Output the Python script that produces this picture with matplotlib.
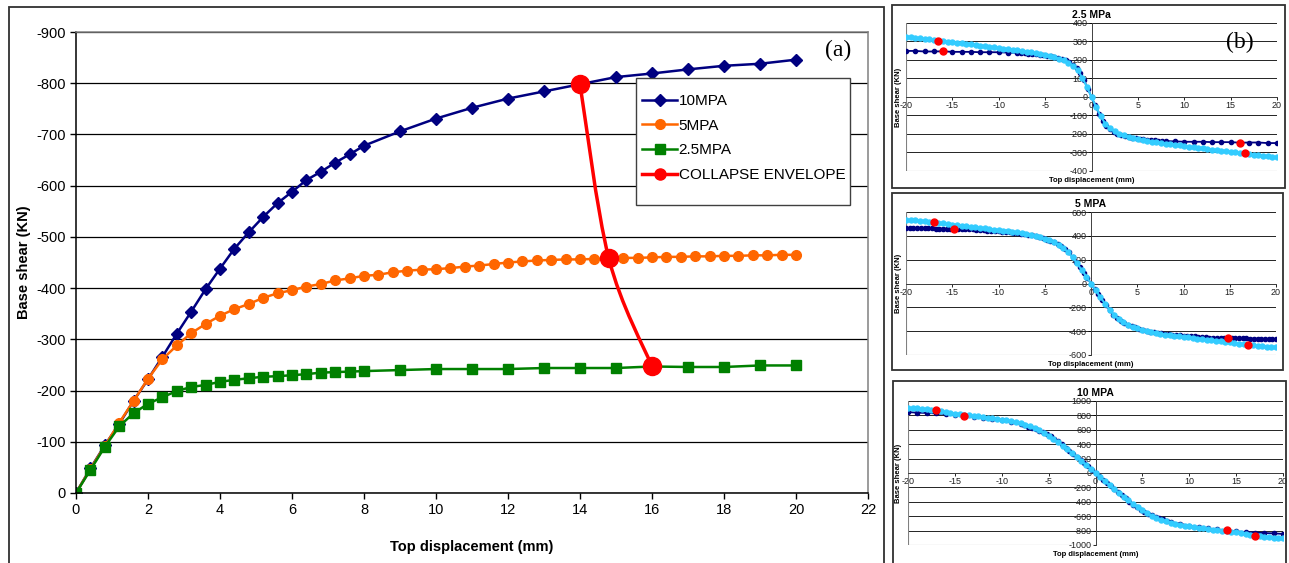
import numpy as np
import matplotlib.pyplot as plt
from matplotlib.lines import Line2D
from matplotlib.path import Path
from matplotlib.patches import PathPatch, Rectangle

plt.rcParams['font.family'] = ['Liberation Sans', 'DejaVu Sans']
plt.rcParams['axes.unicode_minus'] = False

# ---- (a) pushover curves, top displacement (mm) vs base shear (KN)
disp_a = [0, 0.4, 0.8, 1.2, 1.6, 2.0, 2.4, 2.8, 3.2, 3.6, 4.0, 4.4, 4.8, 5.2, 5.6, 6.0,
          6.4, 6.8, 7.2, 7.6, 8.0, 9, 10, 11, 12, 13, 14, 15, 16, 17, 18, 19, 20]
shear_10 = [0, -48, -93, -135, -180, -222, -266, -311, -354, -398, -438, -477, -509, -539,
            -566, -588, -611, -627, -645, -661, -678, -706, -731, -752, -770, -784, -798,
            -812, -819, -827, -834, -838, -846]
shear_25 = [0, -45, -90, -130, -156, -174, -187, -199, -207, -211, -217, -221, -224, -227,
            -228, -230, -232, -235, -236, -237, -238, -240, -242, -242, -242, -244, -244,
            -244, -247, -246, -246, -249, -249]

disp_5 = [0, 0.4, 0.8, 1.2, 1.6, 2.0, 2.4, 2.8, 3.2, 3.6, 4.0, 4.4, 4.8, 5.2, 5.6, 6.0, 6.4,
          6.8, 7.2, 7.6, 8.0, 8.4, 8.8, 9.2, 9.6, 10.0, 10.4, 10.8, 11.2, 11.6, 12.0, 12.4,
          12.8, 13.2, 13.6, 14.0, 14.4, 14.8, 15.2, 15.6, 16.0, 16.4, 16.8, 17.2, 17.6, 18.0,
          18.4, 18.8, 19.2, 19.6, 20.0]
shear_5 = [0, -47, -92, -137, -180, -223, -261, -288, -312, -330, -346, -359, -369, -381,
           -390, -396, -403, -408, -415, -419, -424, -426, -431, -434, -436, -437, -439, -442,
           -444, -447, -450, -452, -454, -455, -456, -456, -457, -458, -459, -459, -460, -461,
           -461, -462, -462, -463, -463, -464, -464, -465, -465]

collapse_disp = [14, 14.8, 16]
collapse_shear = [-798, -458, -247]

# ---- (b) cyclic envelopes, positive displacement branch (mirrored in the plot)
disp_b = [0, 0.5, 1, 1.5, 2, 2.5, 3, 3.5, 4, 4.5, 5, 5.5, 6, 6.5, 7, 7.5, 8, 8.5, 9, 9.5, 10,
          10.5, 11, 11.5, 12, 12.5, 13, 13.5, 14, 14.5, 15, 15.5, 16, 16.5, 17, 17.5, 18,
          18.5, 19, 19.5, 20]
env_25 = [0, -55, -105, -145, -170, -186, -198, -207, -215, -222, -228, -233, -237, -241,
          -245, -249, -252, -256, -259, -262, -266, -269, -272, -275, -278, -281, -284, -287,
          -290, -293, -296, -299, -302, -305, -308, -311, -314, -317, -320, -323, -327]
env_5 = [0, -58, -113, -168, -220, -265, -298, -325, -345, -362, -375, -388, -398, -407,
         -415, -422, -428, -434, -439, -444, -448, -453, -458, -462, -467, -471, -476, -480,
         -485, -489, -494, -499, -504, -510, -516, -520, -523, -526, -529, -531, -534]
env_10 = [0, -58, -115, -170, -225, -278, -330, -378, -430, -475, -520, -560, -595, -625,
          -650, -672, -690, -705, -718, -730, -740, -750, -760, -770, -778, -786, -794, -802,
          -810, -818, -826, -834, -842, -858, -870, -878, -885, -891, -896, -900, -904]
env_collapse = {"2.5": (16.5, -305), "5": (17, -516), "10": (17, -876)}

NAVY = '#000080'
ORANGE = '#FF6600'
GREEN = '#008000'
RED = '#FF0000'
CYAN = '#33CCFF'

W, H = 1289, 563
fig = plt.figure(figsize=(W / 100, H / 100), dpi=100)


def px_axes(l, t, r, b):
    return fig.add_axes([l / W, 1 - b / H, (r - l) / W, (b - t) / H])


def px_box(l, t, r, b, color='#303030', lw=1.3, z=1):
    fig.patches.append(Rectangle((l / W, 1 - b / H), (r - l) / W, (b - t) / H,
                                 transform=fig.transFigure, fill=False,
                                 edgecolor=color, lw=lw, zorder=z))


def smooth_path(xs, ys):
    # Catmull-Rom style bezier, like the smoothed line in the original
    pts = np.column_stack([xs, ys]).astype(float)
    ext = np.vstack([pts[0], pts, pts[-1]])
    verts = [pts[0]]
    codes = [Path.MOVETO]
    for i in range(1, len(ext) - 2):
        p0, p1, p2, p3 = ext[i - 1], ext[i], ext[i + 1], ext[i + 2]
        verts += [p1 + (p2 - p0) / 6, p2 - (p3 - p1) / 6, p2]
        codes += [Path.CURVE4] * 3
    return Path(verts, codes)


# ---------------- (a)
px_box(9, 7, 884, 600)
ax = px_axes(76, 32, 868, 493)
ax.plot(disp_a, shear_10, color=NAVY, marker='D', ms=6, lw=1.8, label='10MPA')
ax.plot(disp_5, shear_5, color=ORANGE, marker='o', ms=7, lw=1.8, label='5MPA')
ax.plot(disp_a, shear_25, color=GREEN, marker='s', ms=7, lw=1.8, label='2.5MPA')
ax.add_patch(PathPatch(smooth_path(collapse_disp, collapse_shear), fill=False,
                       edgecolor=RED, lw=2.5, zorder=4))
ax.plot(collapse_disp, collapse_shear, ls='none', marker='o', ms=13, color=RED, zorder=5)

ax.set_xlim(0, 22)
ax.set_ylim(0, -900)
ax.set_xticks(range(0, 23, 2))
ax.set_yticks(range(0, -1000, -100))
ax.tick_params(labelsize=10.5, length=4, width=1, colors='black')
ax.yaxis.grid(True, color='black', lw=0.9)
ax.set_axisbelow(True)
for s in ['left', 'bottom']:
    ax.spines[s].set_color('black')
    ax.spines[s].set_linewidth(1.1)
for s in ['top', 'right']:
    ax.spines[s].set_color('#808080')
    ax.spines[s].set_linewidth(1.1)
ax.set_xlabel('Top displacement (mm)', fontsize=10.5, fontweight='bold', labelpad=16)
ax.set_ylabel('Base shear (KN)', fontsize=10.5, fontweight='bold', labelpad=4)

# legend: white box drawn separately (extra vertical padding as in the original)
box_l, box_t, box_r, box_b = 636, 78, 850, 205
ax.add_patch(Rectangle(((box_l - 76) / 792, 1 - (box_b - 32) / 461),
                       (box_r - box_l) / 792, (box_b - box_t) / 461,
                       transform=ax.transAxes, facecolor='white', edgecolor='#404040',
                       lw=1.0, zorder=6))
handles = ax.get_legend_handles_labels()[0]
handles.append(Line2D([], [], color=RED, lw=2.5, marker='o', ms=8))
leg = ax.legend(handles, ['10MPA', '5MPA', '2.5MPA', 'COLLAPSE ENVELOPE'],
                loc='upper left', bbox_to_anchor=((642 - 76) / 792, 1 - (94 - 32) / 461),
                fontsize=11, frameon=False, borderpad=0, labelspacing=0.7,
                handlelength=2.3, handletextpad=0.1, borderaxespad=0)
leg.set_zorder(7)
ax.text(838 / W, 1 - 50 / H, '(a)', transform=fig.transFigure, fontsize=17,
        family='Liberation Serif', ha='center', va='center')


# ---------------- (b)
def mirror(d, s):
    d = np.asarray(d, float)
    s = np.asarray(s, float)
    return np.concatenate([-d[::-1], d[1:]]), np.concatenate([-s[::-1], s[1:]])


def small_panel(box, rect, title, disp, shear, env, y_max, y_step, red_a, red_b):
    px_box(*box)
    a = px_axes(*rect)
    x1, y1 = mirror(disp, shear)
    x2, y2 = mirror(disp_b, env)
    a.plot(x1, y1, color=NAVY, marker='o', ms=3, lw=1.3, zorder=3)
    a.plot(x2, y2, color=CYAN, marker='o', ms=3.6, lw=1.5, zorder=4)
    for dx, sy in [red_a, red_b]:
        a.plot([-dx, dx], [-sy, sy], ls='none', marker='o', ms=5, color=RED, zorder=5)
    a.set_xlim(-20, 20)
    a.set_ylim(-y_max, y_max)
    a.set_xticks(range(-20, 21, 5))
    a.set_yticks(np.arange(-y_max, y_max + 1, y_step))
    a.tick_params(labelsize=6.5, length=2, width=0.6, pad=1, labelcolor='#202020')
    a.yaxis.grid(True, color='black', lw=0.6)
    a.spines['left'].set_position(('data', 0))
    a.spines['bottom'].set_position(('data', 0))
    for s in ['left', 'bottom']:
        a.spines[s].set_color('#404040')
        a.spines[s].set_linewidth(0.7)
    a.spines['right'].set_visible(False)
    a.spines['top'].set_visible(False)
    a.axvline(-20, color='#808080', lw=0.8)
    a.axhline(-y_max, color='#808080', lw=0.8)
    a.set_axisbelow(True)
    l, t, r, b = rect
    fig.text((l + r) / 2 / W, 1 - (t - 8) / H, title, fontsize=7.5, fontweight='bold',
             ha='center', va='center')
    fig.text((l + r) / 2 / W, 1 - (b + 10) / H, 'Top displacement (mm)', fontsize=5.5,
             fontweight='bold', ha='center', va='center')
    fig.text(898 / W, 1 - (t + b) / 2 / H, 'Base shear (KN)', fontsize=5.5,
             fontweight='bold', rotation=90, ha='center', va='center')
    return a


a1 = small_panel((892, 5, 1285, 188), (906, 23, 1277, 171), '2.5 MPa', disp_a, shear_25,
                 env_25, 400, 100, (16, -247), env_collapse["2.5"])
a1.text(1240 / W, 1 - 42 / H, '(b)', transform=fig.transFigure, fontsize=17,
        family='Liberation Serif', ha='center', va='center')
small_panel((892, 193, 1283, 370), (906, 212, 1276, 355), '5 MPA', disp_5, shear_5,
            env_5, 600, 200, (14.8, -458), env_collapse["5"])
small_panel((893, 381, 1286, 600), (908, 401, 1283, 545), '10 MPA', disp_a, shear_10,
            env_10, 1000, 200, (14, -798), env_collapse["10"])

fig.savefig('out.png', dpi=100)
